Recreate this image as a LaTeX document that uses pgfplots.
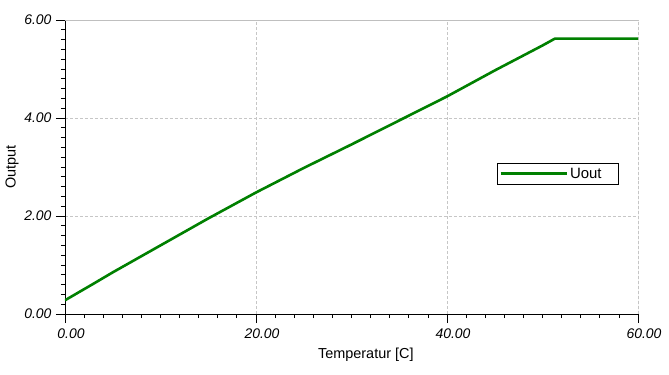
\documentclass[border=0pt]{standalone}
\usepackage{fontspec}
\setmainfont{Liberation Sans}
\usepackage{pgfplots}
\pgfplotsset{compat=1.18}
\definecolor{uoutgreen}{RGB}{0,128,0}
\begin{document}
\begin{tikzpicture}
\path[use as bounding box] (-65bp,-61bp) rectangle (604bp,314bp);
\begin{axis}[
  at={(0,0)}, anchor=south west,
  scale only axis, width=573bp, height=294bp,
  xmin=0, xmax=60, ymin=0, ymax=6,
  axis x line*=bottom, axis y line*=left,
  axis line style={black, line width=0.8bp},
  xtick={0,20,40,60}, ytick={0,2,4,6},
  minor x tick num=9, minor y tick num=9,
  tick align=outside,
  major tick length=9bp, minor tick length=4bp,
  every tick/.style={black, line width=0.8bp},
  grid=major,
  major grid style={densely dashed, gray!45, line width=0.6bp},
  /pgf/number format/.cd, fixed, fixed zerofill, precision=2, assume math mode=true,
  /pgfplots/.cd,
  tick label style={font=\fontsize{14}{16}\selectfont\itshape},
  xticklabel style={anchor=north, xshift=6bp, yshift=-2bp},
  yticklabel style={anchor=east, xshift=-1bp},
  xlabel={Temperatur [C]}, ylabel={Output},
  label style={font=\fontsize{14.5}{16}\selectfont},
  xlabel style={at={(axis description cs:0.525,-0.1395)}, anchor=center},
  ylabel style={at={(axis description cs:-0.0925,0.5)}, anchor=center},
  legend style={at={(rel axis cs:0.754,0.514)}, anchor=north west,
    draw=black, line width=0.8bp, inner xsep=2bp, inner ysep=2.5bp,
    font=\fontsize{15}{17}\selectfont},
  legend image code/.code={\draw[#1] (0bp,0bp) -- (66bp,0bp);},
]
\addplot[uoutgreen, line width=2.6bp] coordinates {
(0,0.28) (3,0.62) (5,0.85) (10,1.40) (15,1.95) (20,2.48) (25,2.98)
(30,3.46) (35,3.95) (40,4.44) (45,4.97) (50,5.48) (51.3,5.62) (60,5.62)
};
\addlegendentry{\makebox[44bp][l]{Uout}}
\draw[gray!50, line width=0.8bp] (rel axis cs:0,1) -- (rel axis cs:1,1) -- (rel axis cs:1,0);
\end{axis}
\end{tikzpicture}
\end{document}
